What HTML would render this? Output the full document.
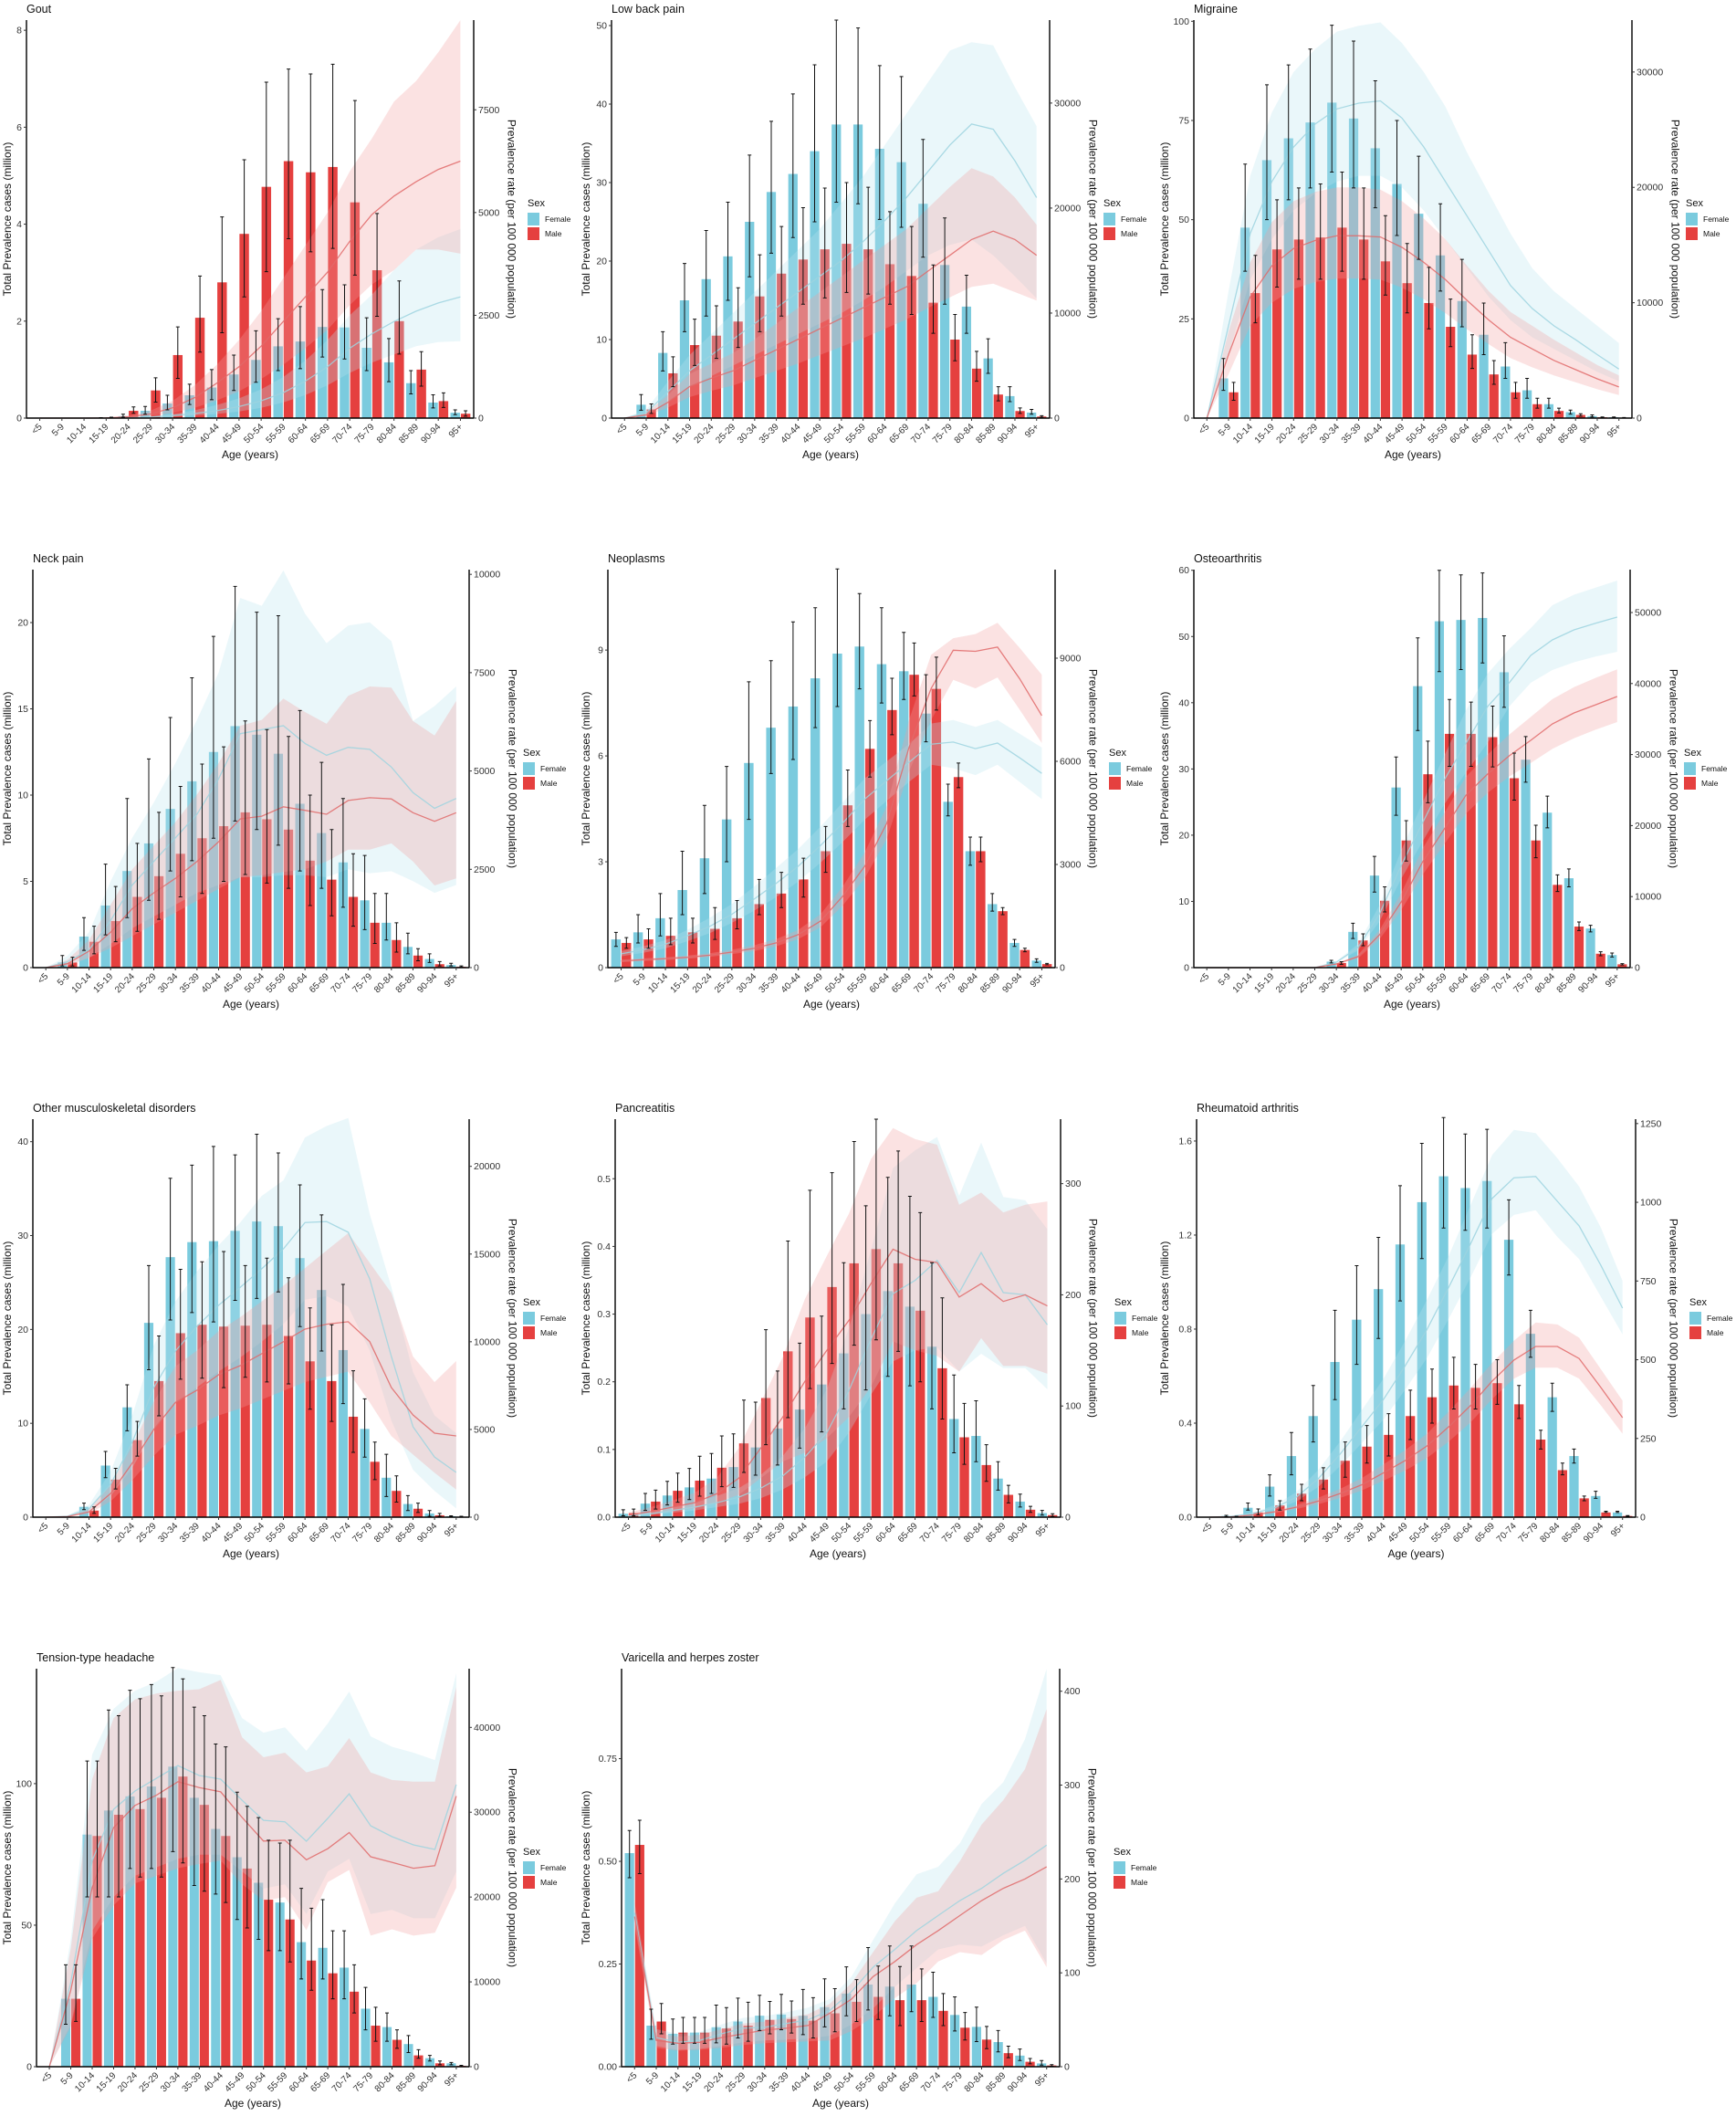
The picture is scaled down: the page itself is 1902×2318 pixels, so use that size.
<!DOCTYPE html>
<html><head><meta charset="utf-8"><title>Prevalence by age and sex</title>
<style>
html,body{margin:0;padding:0;background:#fff;}
svg text{font-family:"Liberation Sans",Arial,sans-serif;}
</style></head>
<body>
<svg id="chart" xmlns="http://www.w3.org/2000/svg" width="1902" height="2313" viewBox="0 0 1902 2313"></svg>
<script>
const ageGroups = ["<5","5-9","10-14","15-19","20-24","25-29","30-34","35-39","40-44","45-49","50-54","55-59","60-64","65-69","70-74","75-79","80-84","85-89","90-94","95+"];

// ---------- Gout ----------
const goutF = [0,0,0,0.01,0.04,0.15,0.3,0.47,0.63,0.9,1.2,1.48,1.58,1.88,1.87,1.45,1.15,0.72,0.32,0.11];
const goutFHi = [0,0,0,0.01,0.08,0.24,0.47,0.7,1.0,1.3,1.8,2.05,2.3,2.65,2.75,2.07,1.64,0.98,0.48,0.17];
const goutFLo = [0,0,0,0,0.02,0.08,0.17,0.28,0.38,0.57,0.74,0.98,1.02,1.26,1.22,0.98,0.75,0.5,0.21,0.07];
const goutM = [0,0,0,0.01,0.15,0.57,1.3,2.07,2.8,3.8,4.77,5.3,5.07,5.18,4.45,3.05,2.0,1.0,0.35,0.09];
const goutMHi = [0,0,0,0.02,0.23,0.83,1.88,2.93,4.15,5.33,6.93,7.2,7.1,7.3,6.55,4.22,2.83,1.37,0.52,0.15];
const goutMLo = [0,0,0,0,0.1,0.33,0.82,1.36,1.76,2.5,3.02,3.7,3.43,3.5,2.95,2.1,1.32,0.66,0.22,0.04];
const goutRateF = [0,0,0,2,8,25,60,110,180,280,420,620,900,1250,1700,2050,2350,2600,2800,2950];
const goutRateFHi = [0,0,0,4,15,45,100,190,320,480,700,1000,1400,1900,2500,3000,3600,4100,4400,4600];
const goutRateFLo = [0,0,0,1,4,12,30,60,100,160,250,380,560,800,1100,1350,1550,1750,1850,1870];
const goutRateM = [0,0,0,5,30,100,250,500,850,1250,1750,2350,2950,3550,4300,4950,5400,5750,6050,6250];
const goutRateMHi = [0,0,0,10,60,180,420,800,1300,1900,2600,3400,4200,5000,6000,6800,7700,8200,8900,9680];
const goutRateMLo = [0,0,0,2,15,50,120,250,430,650,950,1300,1700,2150,2750,3250,3600,4100,4100,4000];
const goutLeftTicks = [0,2,4,6,8];
const goutLeftLabels = ["0","2","4","6","8"];
const goutRightTicks = [0,2500,5000,7500];

// ---------- Low back pain ----------
const lbpF = [0,1.7,8.3,15,17.7,20.6,25,28.8,31.1,34,37.4,37.4,34.3,32.6,27.3,19.5,14.2,7.6,2.8,0.7];
const lbpFHi = [0,3,11,19.7,23.9,27.5,33.5,37.8,41.3,45,50.7,49.7,44.9,43.5,35.5,25.5,18.2,10.1,4,1.1];
const lbpFLo = [0,1,6,11,13,15,18,21,23,25,27.5,27.3,25.3,24.3,20.5,14.5,10.8,5.7,2.1,0.5];
const lbpM = [0,1.1,5.7,9.3,10.5,12.3,15.5,18.4,20.2,21.5,22.2,21.5,19.6,18.1,14.7,10,6.3,3,0.9,0.2];
const lbpMHi = [0,1.8,7.8,12.6,14.3,16.6,20.8,24.4,26.8,29.3,30,29.4,26.3,24.4,19.5,13.2,8.5,4,1.3,0.3];
const lbpMLo = [0,0.6,4,6.7,7.6,9,11,13,14.5,15.3,16,15.8,14.5,13.2,10.8,7.3,4.7,2.2,0.6,0.1];
const lbpRateF = [0,500,2500,4500,6000,7500,9000,10500,12000,13500,15000,16800,18800,21000,23500,26000,28000,27500,24500,21000];
const lbpRateFHi = [0,800,3500,6000,8000,10000,12000,14000,16000,18000,20500,23000,26000,29000,32000,35000,35800,35500,31500,27800];
const lbpRateFLo = [0,300,1500,3000,4000,5000,6000,7000,8000,9000,10000,11200,12500,14000,15500,16500,17000,15500,13500,11400];
const lbpRateM = [0,300,1500,3000,3800,4500,5500,6500,7500,8500,9500,10500,11500,12500,14000,15500,17000,17800,17000,15500];
const lbpRateMHi = [0,500,2200,4200,5200,6200,7500,9000,10500,12000,13500,15000,16500,18000,20000,22000,23800,23000,21000,18400];
const lbpRateMLo = [0,200,1000,2000,2600,3100,3800,4500,5200,6000,6800,7600,8500,9400,10500,11500,12500,12800,12000,11200];
const lbpLeftTicks = [0,10,20,30,40,50];
const lbpLeftLabels = ["0","10","20","30","40","50"];
const lbpRightTicks = [0,10000,20000,30000];

// ---------- Migraine ----------
const migF = [0,10,48,65,70.5,74.5,79.5,75.5,68,59,51.5,41,29.5,21,13,7,3.5,1.5,0.5,0.2];
const migFHi = [0,15,64,84,89,93,99,95,85,75,66,54,40,29,19,10,5,2,0.8,0.3];
const migFLo = [0,7,37,50,55,58,62,58,53,46,40,32,23,16,10,5,2.5,1,0.3,0.1];
const migM = [0,6.5,31.5,42.5,45,45.5,48,45,39.5,34,29,23,16,11,6.5,3.5,1.8,0.8,0.2,0.1];
const migMHi = [0,9,41,55,58,59,62,58,51,44,38,30,21,14.5,9,5,2.5,1.1,0.3,0.15];
const migMLo = [0,4.5,24,33,35,35,37,35,31,26.5,22.5,18,12.5,8.5,5,2.5,1.3,0.5,0.1,0.05];
const migRateF = [0,8000,16000,20500,23500,25500,26800,27300,27500,26000,23500,20500,17500,14500,11500,9500,8000,6800,5500,4250];
const migRateFHi = [0,11000,21000,26500,30000,32000,33500,34000,34300,32500,30000,27000,23000,19500,16000,13000,11000,9500,8000,6500];
const migRateFLo = [0,5500,12000,15500,18000,19500,20500,21000,21000,20000,18000,15500,13000,10500,8500,7000,6000,5000,4000,3200];
const migRateM = [0,5500,10500,13200,14700,15400,15800,15800,15700,14800,13500,12000,10200,8500,7000,6000,5000,4200,3400,2700];
const migRateMHi = [0,7500,13500,17000,18800,19600,20000,20000,19800,18800,17300,15500,13200,11000,9200,8000,6800,5700,4600,3700];
const migRateMLo = [0,3800,8000,10000,11200,11800,12100,12100,12000,11300,10300,9100,7700,6400,5200,4400,3700,3100,2500,2000];
const migLeftTicks = [0,25,50,75,100];
const migLeftLabels = ["0","25","50","75","100"];
const migRightTicks = [0,10000,20000,30000];

// ---------- Neck pain ----------
const neckF = [0,0.3,1.8,3.6,5.6,7.2,9.2,10.8,12.5,14,13.5,12.4,9.5,7.8,6.1,3.9,2.6,1.2,0.5,0.15];
const neckFHi = [0,0.7,2.9,6,9.8,12.1,14.5,16.8,19.2,22.1,20.6,20.4,14.9,11.9,9.8,6.5,4.3,2,0.8,0.25];
const neckFLo = [0,0.1,1,1.9,2.9,3.9,5.6,6.2,7.5,8.5,8,7.1,5.6,4.6,3.5,2.2,1.6,0.8,0.3,0.1];
const neckM = [0,0.3,1.5,2.7,4.1,5.3,6.6,7.5,8.2,9,8.6,8,6.2,5.1,4.1,2.6,1.6,0.7,0.2,0.05];
const neckMHi = [0,0.6,2.4,4.7,7.2,9,10.5,11.8,12.8,14.3,13.8,13.4,10,8,6.6,4.3,2.6,1.1,0.35,0.1];
const neckMLo = [0,0.1,0.8,1.5,2.1,2.8,4.1,4.3,5,5.4,4.9,4.6,3.6,3,2.4,1.4,0.9,0.4,0.1,0.03];
const neckRateF = [0,150,450,1200,2100,2700,3300,3900,4800,5950,6050,6150,5700,5400,5600,5550,5100,4450,4050,4300];
const neckRateFHi = [0,300,900,2200,3300,4200,5200,6300,7500,9400,9200,10100,9000,8250,8700,8780,8300,6270,6650,7150];
const neckRateFLo = [0,50,250,600,1000,1300,1600,1900,2100,2300,2300,2350,2350,2300,2500,2400,2450,2200,1900,2100];
const neckRateM = [0,100,420,900,1500,1900,2270,2700,3200,3780,3850,4090,4000,3900,4250,4320,4290,3940,3720,3940];
const neckRateMHi = [0,200,700,1600,2500,3100,3700,4400,5200,6150,6300,6840,6500,6200,6910,7150,7120,6270,5900,6780];
const neckRateMLo = [0,50,250,500,800,1100,1400,1700,2000,2300,2350,2430,2500,2700,3000,3000,3160,2700,2090,2270];
const neckLeftTicks = [0,5,10,15,20];
const neckLeftLabels = ["0","5","10","15","20"];
const neckRightTicks = [0,2500,5000,7500,10000];

// ---------- Neoplasms ----------
const neoF = [0.8,1,1.4,2.2,3.1,4.2,5.8,6.8,7.4,8.2,8.9,9.1,8.6,8.4,7.2,4.7,3.3,1.8,0.7,0.2];
const neoFHi = [1,1.5,2.1,3.3,4.6,5.7,8.1,8.7,9.8,10.2,11.3,10.6,10.2,9.5,8.3,5.2,3.7,2.1,0.8,0.25];
const neoFLo = [0.6,0.7,0.9,1.5,2.1,3,4.2,5.5,5.9,6.8,7.4,7.9,7.5,7.6,6.4,4.3,2.9,1.6,0.6,0.15];
const neoM = [0.7,0.8,0.9,1,1.1,1.4,1.8,2.1,2.5,3.3,4.6,6.2,7.3,8.3,7.9,5.4,3.3,1.6,0.5,0.1];
const neoMHi = [0.85,1.1,1.4,1.4,1.7,1.9,2.5,2.7,3.1,4,5.6,7,8.2,9.2,8.8,5.8,3.7,1.7,0.55,0.12];
const neoMLo = [0.55,0.55,0.65,0.7,0.8,1.1,1.5,1.7,2,2.7,4,5.4,6.6,7.7,7.3,5.1,3,1.5,0.45,0.08];
const neoRateF = [400,520,680,930,1200,1550,1990,2450,2950,3550,4200,4900,5440,5970,6500,6560,6370,6530,6100,5650];
const neoRateFHi = [480,620,800,1100,1450,1850,2350,2900,3450,4100,4800,5500,6000,6500,7100,7200,7000,7200,6800,6400];
const neoRateFLo = [330,430,560,770,1000,1300,1650,2050,2500,3050,3650,4300,4850,5400,5900,5800,5600,5900,5400,4900];
const neoRateM = [190,230,260,300,360,450,560,720,960,1350,2070,2950,4200,6400,8120,9230,9200,9320,8400,7330];
const neoRateMHi = [230,270,300,350,420,520,650,830,1100,1550,2350,3350,4700,7200,9100,9580,9700,10030,9300,8520];
const neoRateMLo = [160,190,220,260,310,390,480,620,830,1170,1800,2600,3750,5700,7200,8370,8120,8440,7500,6530];
const neoLeftTicks = [0,3,6,9];
const neoLeftLabels = ["0","3","6","9"];
const neoRightTicks = [0,3000,6000,9000];

// ---------- Osteoarthritis ----------
const oaF = [0,0,0,0,0,0,0.9,5.4,13.9,27.2,42.5,52.3,52.5,52.8,44.6,31.4,23.4,13.5,5.9,1.9];
const oaFHi = [0,0,0,0,0,0,1.1,6.7,16.8,31.8,49.8,60,59.3,59.6,50.1,34.9,25.9,14.9,6.4,2.2];
const oaFLo = [0,0,0,0,0,0,0.7,4.4,11.4,23,35.8,44.7,45,46,39.3,28,21.1,12.2,5.4,1.6];
const oaM = [0,0,0,0,0,0,0.7,4.1,10.1,19.2,29.2,35.3,35.3,34.8,28.6,19.2,12.5,6.2,2.1,0.5];
const oaMHi = [0,0,0,0,0,0,0.9,5.1,12.2,22.2,34.2,40.5,40.1,39.5,32.4,21.5,14,6.9,2.4,0.6];
const oaMLo = [0,0,0,0,0,0,0.5,3.3,8.4,16.1,24.9,30.4,30.4,30.3,25.3,16.6,11.5,5.6,1.8,0.4];
const oaRateF = [0,0,0,0,0,0,770,2830,7580,14400,20440,26480,31620,36760,40100,43960,46140,47560,48500,49360];
const oaRateFHi = [0,0,0,0,0,0,900,3300,8800,16500,23300,29900,36250,41390,44860,47800,51030,52500,53500,54500];
const oaRateFLo = [0,0,0,0,0,0,650,2400,6500,12500,17800,23000,27500,31620,36760,40100,41900,43000,43800,44470];
const oaRateM = [0,0,0,0,0,0,510,1540,4630,9250,14910,19540,24290,27250,29820,32000,34320,35860,37000,38170];
const oaRateMHi = [0,0,0,0,0,0,600,1800,5300,10500,16800,21800,26900,30000,32800,35300,37800,39500,40800,42000];
const oaRateMLo = [0,0,0,0,0,0,430,1300,4000,8100,13100,17400,21700,24600,26900,28800,30800,32300,33500,34580];
const oaLeftTicks = [0,10,20,30,40,50,60];
const oaLeftLabels = ["0","10","20","30","40","50","60"];
const oaRightTicks = [0,10000,20000,30000,40000,50000];

// ---------- Other musculoskeletal disorders ----------
const omsF = [0,0,1.1,5.5,11.7,20.7,27.7,29.3,29.4,30.5,31.5,31,27.6,24.2,17.8,9.4,4.2,1.4,0.4,0.1];
const omsFHi = [0,0,1.5,7,14.1,26.8,36.1,37.5,39.5,38.6,40.8,38.8,35.4,32.2,24.8,12.6,6.7,2.3,0.7,0.15];
const omsFLo = [0,0,0.8,4.2,9.2,15.7,21,21.8,20.8,23.1,23.3,24,20.3,17.7,12.1,6.4,2.2,0.7,0.1,0.05];
const omsM = [0,0,0.7,4,8.2,14.5,19.6,20.5,20.3,20.4,20.5,19.3,16.6,14.5,10.7,5.9,2.8,0.9,0.2,0.05];
const omsMHi = [0,0,1.1,5.2,10.2,19.3,26.4,27.2,28.3,26.8,27.6,25.5,22.3,20.5,15.6,8,4.4,1.5,0.4,0.1];
const omsMLo = [0,0,0.4,3,6.5,10.8,14.7,14.8,13.8,14.9,14.4,14.2,11.5,10.2,6.9,4,1.6,0.5,0.1,0.02];
const omsRateF = [0,50,480,1870,4270,7390,9470,10880,12080,13100,14160,15300,16800,16850,16240,13580,9160,5150,3430,2550];
const omsRateFHi = [0,100,700,2600,5800,9800,12300,14000,15500,16800,18320,19200,21650,22300,22750,17280,13120,8270,5800,4790];
const omsRateFLo = [0,20,300,1200,2800,5000,6500,7400,8300,9100,10000,11000,12400,12600,12000,9500,5500,2700,1500,500];
const omsRateM = [0,30,300,1350,3080,5000,6540,7240,8120,8640,9320,10000,10720,11000,11140,10000,7390,5830,4790,4630];
const omsRateMHi = [0,60,450,1800,4100,6600,8600,9500,10600,11400,12300,13200,14200,15200,16190,14500,12780,9160,7700,8900];
const omsRateMLo = [0,10,200,900,2100,3500,4700,5200,5800,6200,6700,7200,7700,8000,8300,6540,4620,3570,2530,1570];
const omsLeftTicks = [0,10,20,30,40];
const omsLeftLabels = ["0","10","20","30","40"];
const omsRightTicks = [0,5000,10000,15000,20000];

// ---------- Pancreatitis ----------
const panF = [0.005,0.02,0.032,0.044,0.057,0.074,0.103,0.131,0.159,0.196,0.242,0.3,0.334,0.311,0.252,0.145,0.12,0.057,0.023,0.006];
const panFHi = [0.011,0.035,0.053,0.072,0.094,0.123,0.17,0.216,0.257,0.297,0.376,0.46,0.502,0.474,0.376,0.21,0.172,0.082,0.034,0.01];
const panFLo = [0.002,0.01,0.018,0.026,0.035,0.044,0.062,0.077,0.102,0.126,0.16,0.188,0.208,0.194,0.16,0.095,0.082,0.04,0.015,0.003];
const panM = [0.006,0.023,0.039,0.054,0.073,0.109,0.176,0.245,0.295,0.34,0.375,0.396,0.375,0.305,0.22,0.118,0.077,0.033,0.011,0.003];
const panMHi = [0.012,0.04,0.065,0.09,0.12,0.173,0.277,0.408,0.483,0.509,0.555,0.588,0.541,0.45,0.324,0.168,0.107,0.047,0.016,0.005];
const panMLo = [0.002,0.012,0.022,0.031,0.045,0.066,0.107,0.147,0.19,0.227,0.254,0.262,0.245,0.2,0.145,0.078,0.053,0.021,0.007,0.001];
const panRateF = [1,3,6,9,13,18,26,37,54,76,114,160,201,213,231,202,238,202,200,173];
const panRateFHi = [2,5,9,13,19,26,38,55,80,115,170,240,314,330,342,289,337,288,285,259];
const panRateFLo = [0.5,2,4,6,9,12,17,25,36,50,76,110,140,150,153,131,147,134,134,115];
const panRateM = [2,5,9,13,21,35,62,90,122,150,177,210,241,232,229,198,210,194,200,190];
const panRateMHi = [4,9,15,22,35,62,103,144,196,235,273,322,350,340,335,281,292,274,281,284];
const panRateMLo = [1,3,5,8,13,20,35,50,58,71,90,117,158,150,145,131,161,136,136,129];
const panLeftTicks = [0,0.1,0.2,0.3,0.4,0.5];
const panLeftLabels = ["0.0","0.1","0.2","0.3","0.4","0.5"];
const panRightTicks = [0,100,200,300];

// ---------- Rheumatoid arthritis ----------
const raF = [0,0.005,0.04,0.13,0.26,0.43,0.66,0.84,0.97,1.16,1.34,1.45,1.4,1.43,1.18,0.78,0.51,0.26,0.09,0.02];
const raFHi = [0,0.008,0.06,0.18,0.36,0.56,0.88,1.07,1.19,1.41,1.59,1.7,1.63,1.65,1.35,0.88,0.57,0.29,0.11,0.025];
const raFLo = [0,0.002,0.03,0.09,0.18,0.32,0.5,0.65,0.76,0.92,1.1,1.23,1.22,1.23,1.03,0.68,0.45,0.23,0.08,0.02];
const raM = [0,0.002,0.02,0.05,0.1,0.16,0.24,0.3,0.35,0.43,0.51,0.56,0.55,0.57,0.48,0.33,0.2,0.08,0.02,0.005];
const raMHi = [0,0.004,0.035,0.07,0.14,0.21,0.32,0.39,0.44,0.54,0.63,0.68,0.65,0.67,0.56,0.37,0.23,0.09,0.025,0.007];
const raMLo = [0,0.001,0.01,0.03,0.07,0.12,0.17,0.23,0.26,0.33,0.4,0.46,0.46,0.48,0.42,0.29,0.18,0.07,0.02,0.003];
const raRateF = [0,3,12,30,64,122,200,287,374,481,596,730,867,1012,1078,1082,1003,925,800,664];
const raRateFHi = [0,4,15,38,80,150,240,340,440,560,690,830,990,1150,1230,1220,1140,1050,920,750];
const raRateFLo = [0,2,9,23,50,96,162,235,310,405,505,630,760,900,960,975,890,820,700,580];
const raRateM = [0,1,7,17,32,51,75,103,141,180,226,287,354,432,499,542,542,504,412,316];
const raRateMHi = [0,2,9,21,39,62,90,124,168,213,265,335,410,490,560,618,612,570,470,370];
const raRateMLo = [0,1,5,13,26,41,61,85,116,148,188,240,300,375,440,475,475,440,355,265];
const raLeftTicks = [0,0.4,0.8,1.2,1.6];
const raLeftLabels = ["0.0","0.4","0.8","1.2","1.6"];
const raRightTicks = [0,250,500,750,1000,1250];

// ---------- Tension-type headache ----------
const tthF = [0,24,82,90.5,95.5,99,106,95,84,74,65,58,44,42,35,20.5,14,8,3,1.2];
const tthFHi = [0,36,108,126,133,135,141,127,114,97,88,79,63,59,48,28,19,11,4,1.5];
const tthFLo = [0,15,60,60,70,70,76,64,61,52,45,41,31,31,24,13,9,5,2,0.7];
const tthM = [0,24,81.5,89,91,95,102.5,92.5,81.5,70,59,52,37.5,33,26.5,14.5,9.5,4,1.2,0.3];
const tthMHi = [0,36,108,124,130,131,137,124,113,92,80,80,56,48,36,21,13,6,2,0.5];
const tthMLo = [0,16,60,60,67,67,72,62,58,49,41,37,27,24,19,9,6.5,3,0.7,0.1];
const tthRateF = [0,9900,24300,30350,32500,34000,35500,34330,33900,31400,29050,28870,26580,29270,32170,28400,27120,26150,25610,33250];
const tthRateFHi = [0,15000,36800,42200,44330,45380,47000,46500,46160,41100,39380,40000,37230,40460,44230,38950,37720,37020,36150,46380];
const tthRateFLo = [0,5000,16000,20000,22500,23500,24500,25000,25000,23000,21000,21500,18000,23000,24500,18000,18500,17500,17500,23000];
const tthRateM = [0,9000,21100,28200,30800,32000,33600,32900,32400,29380,26600,26700,24400,25700,27600,24750,24100,23400,23700,31900];
const tthRateMHi = [0,13900,33900,41100,43300,44000,44330,44500,45600,38830,36480,37020,34700,35400,38740,34700,33800,33600,33600,44760];
const tthRateMLo = [0,4700,15100,19000,21600,22500,23400,23900,24300,21500,19600,20000,16100,21750,23200,15450,16200,15450,15800,21100];
const tthLeftTicks = [0,50,100];
const tthLeftLabels = ["0","50","100"];
const tthRightTicks = [0,10000,20000,30000,40000];

// ---------- Varicella and herpes zoster ----------
const varF = [0.52,0.1,0.08,0.083,0.096,0.11,0.124,0.127,0.124,0.145,0.178,0.2,0.195,0.2,0.17,0.126,0.097,0.06,0.027,0.008];
const varFHi = [0.575,0.14,0.116,0.12,0.15,0.167,0.174,0.176,0.188,0.214,0.243,0.29,0.294,0.294,0.23,0.17,0.145,0.088,0.043,0.015];
const varFLo = [0.46,0.067,0.055,0.057,0.058,0.07,0.088,0.09,0.078,0.097,0.124,0.138,0.124,0.134,0.12,0.087,0.061,0.036,0.015,0.004];
const varM = [0.54,0.11,0.083,0.083,0.093,0.1,0.114,0.116,0.112,0.13,0.158,0.17,0.162,0.162,0.136,0.095,0.066,0.033,0.012,0.003];
const varMHi = [0.6,0.154,0.12,0.12,0.144,0.157,0.159,0.16,0.168,0.19,0.212,0.245,0.244,0.238,0.178,0.132,0.098,0.05,0.02,0.005];
const varMLo = [0.47,0.08,0.057,0.057,0.055,0.062,0.08,0.082,0.07,0.085,0.11,0.115,0.1,0.11,0.1,0.065,0.044,0.022,0.007,0.001];
const varRateF = [164,31,26,28,35,41,42,46,50,60,80,106,125,145,161,177,190,206,220,236];
const varRateFHi = [175,40,35,37,45,52,54,58,63,72,96,135,174,205,213,238,280,303,349,424];
const varRateFLo = [155,22,18,19,22,26,28,29,30,33,45,62,85,105,125,130,128,140,150,110];
const varRateM = [160,28,25,26,31,35,39,41,44,57,72,96,112,130,145,161,177,190,200,213];
const varRateMHi = [170,36,32,34,40,46,48,52,56,67,89,122,155,180,187,219,258,284,317,381];
const varRateMLo = [150,20,17,18,20,23,25,26,27,28,38,53,73,89,112,122,119,135,145,106];
const varLeftTicks = [0,0.25,0.5,0.75];
const varLeftLabels = ["0.00","0.25","0.50","0.75"];
const varRightTicks = [0,100,200,300,400];

const panels = [
 {key:"gout",title:"Gout",ox:0,oy:0,L:29,R:519,yMax:8.21,rMax:9682,f:goutF,fHi:goutFHi,fLo:goutFLo,m:goutM,mHi:goutMHi,mLo:goutMLo,rf:goutRateF,rfHi:goutRateFHi,rfLo:goutRateFLo,rm:goutRateM,rmHi:goutRateMHi,rmLo:goutRateMLo,lt:goutLeftTicks,ll:goutLeftLabels,rt:goutRightTicks},
 {key:"low-back-pain",title:"Low back pain",ox:634,oy:0,L:36,R:516,yMax:50.7,rMax:37900,f:lbpF,fHi:lbpFHi,fLo:lbpFLo,m:lbpM,mHi:lbpMHi,mLo:lbpMLo,rf:lbpRateF,rfHi:lbpRateFHi,rfLo:lbpRateFLo,rm:lbpRateM,rmHi:lbpRateMHi,rmLo:lbpRateMLo,lt:lbpLeftTicks,ll:lbpLeftLabels,rt:lbpRightTicks},
 {key:"migraine",title:"Migraine",ox:1268,oy:0,L:40,R:520,yMax:100.3,rMax:34500,f:migF,fHi:migFHi,fLo:migFLo,m:migM,mHi:migMHi,mLo:migMLo,rf:migRateF,rfHi:migRateFHi,rfLo:migRateFLo,rm:migRateM,rmHi:migRateMHi,rmLo:migRateMLo,lt:migLeftTicks,ll:migLeftLabels,rt:migRightTicks},
 {key:"neck-pain",title:"Neck pain",ox:0,oy:602,L:36,R:514,yMax:23.07,rMax:10120,f:neckF,fHi:neckFHi,fLo:neckFLo,m:neckM,mHi:neckMHi,mLo:neckMLo,rf:neckRateF,rfHi:neckRateFHi,rfLo:neckRateFLo,rm:neckRateM,rmHi:neckRateMHi,rmLo:neckRateMLo,lt:neckLeftTicks,ll:neckLeftLabels,rt:neckRightTicks},
 {key:"neoplasms",title:"Neoplasms",ox:634,oy:602,L:32,R:522,yMax:11.28,rMax:11575,f:neoF,fHi:neoFHi,fLo:neoFLo,m:neoM,mHi:neoMHi,mLo:neoMLo,rf:neoRateF,rfHi:neoRateFHi,rfLo:neoRateFLo,rm:neoRateM,rmHi:neoRateMHi,rmLo:neoRateMLo,lt:neoLeftTicks,ll:neoLeftLabels,rt:neoRightTicks},
 {key:"osteoarthritis",title:"Osteoarthritis",ox:1268,oy:602,L:40,R:518,yMax:60.1,rMax:56040,f:oaF,fHi:oaFHi,fLo:oaFLo,m:oaM,mHi:oaMHi,mLo:oaMLo,rf:oaRateF,rfHi:oaRateFHi,rfLo:oaRateFLo,rm:oaRateM,rmHi:oaRateMHi,rmLo:oaRateMLo,lt:oaLeftTicks,ll:oaLeftLabels,rt:oaRightTicks},
 {key:"other-msk",title:"Other musculoskeletal disorders",ox:0,oy:1204,L:36,R:514,yMax:42.4,rMax:22690,f:omsF,fHi:omsFHi,fLo:omsFLo,m:omsM,mHi:omsMHi,mLo:omsMLo,rf:omsRateF,rfHi:omsRateFHi,rfLo:omsRateFLo,rm:omsRateM,rmHi:omsRateMHi,rmLo:omsRateMLo,lt:omsLeftTicks,ll:omsLeftLabels,rt:omsRightTicks},
 {key:"pancreatitis",title:"Pancreatitis",ox:634,oy:1204,L:40,R:528,yMax:0.588,rMax:358,f:panF,fHi:panFHi,fLo:panFLo,m:panM,mHi:panMHi,mLo:panMLo,rf:panRateF,rfHi:panRateFHi,rfLo:panRateFLo,rm:panRateM,rmHi:panRateMHi,rmLo:panRateMLo,lt:panLeftTicks,ll:panLeftLabels,rt:panRightTicks},
 {key:"rheumatoid-arthritis",title:"Rheumatoid arthritis",ox:1268,oy:1204,L:43,R:524,yMax:1.693,rMax:1264,f:raF,fHi:raFHi,fLo:raFLo,m:raM,mHi:raMHi,mLo:raMLo,rf:raRateF,rfHi:raRateFHi,rfLo:raRateFLo,rm:raRateM,rmHi:raRateMHi,rmLo:raRateMLo,lt:raLeftTicks,ll:raLeftLabels,rt:raRightTicks},
 {key:"tension-headache",title:"Tension-type headache",ox:0,oy:1806,L:40,R:514,yMax:140.6,rMax:46920,f:tthF,fHi:tthFHi,fLo:tthFLo,m:tthM,mHi:tthMHi,mLo:tthMLo,rf:tthRateF,rfHi:tthRateFHi,rfLo:tthRateFLo,rm:tthRateM,rmHi:tthRateMHi,rmLo:tthRateMLo,lt:tthLeftTicks,ll:tthLeftLabels,rt:tthRightTicks},
 {key:"varicella",title:"Varicella and herpes zoster",ox:634,oy:1806,L:47,R:527,yMax:0.969,rMax:424,f:varF,fHi:varFHi,fLo:varFLo,m:varM,mHi:varMHi,mLo:varMLo,rf:varRateF,rfHi:varRateFHi,rfLo:varRateFLo,rm:varRateM,rmHi:varRateMHi,rmLo:varRateMLo,lt:varLeftTicks,ll:varLeftLabels,rt:varRightTicks}
];

const NS = "http://www.w3.org/2000/svg";
const svg = document.getElementById("chart");
const FEM = "#7BCBDE", MAL = "#E5403F";

function mk(tag, attrs, parent){
  const e = document.createElementNS(NS, tag);
  for (const k in attrs) e.setAttribute(k, attrs[k]);
  parent.appendChild(e);
  return e;
}

function drawPanel(p){
  const g = mk("g", {}, svg);
  
  
  const L = p.ox + p.L, R = p.ox + p.R, T = p.oy + 22, B = p.oy + 458;
  const n = ageGroups.length;
  const step = (R - L) / (n - 1 + 1.2);
  const xc = i => L + step * (0.6 + i);
  const yL = v => B - (v / p.yMax) * (B - T);
  const yR = v => B - (v / p.rMax) * (B - T);
  const bw = step * 0.43;

  // title
  const t = mk("text", {x: L, y: p.oy + 14, "font-size": 12.5, fill: "#111"}, g);
  t.textContent = p.title;
  
  

  // bars
  for (let i = 0; i < n; i++){
    const c = xc(i);
    const bf = mk("rect", {x: c - step*0.45, y: yL(p.f[i]), width: bw, height: B - yL(p.f[i]), fill: FEM}, g);
    
    
    const bm = mk("rect", {x: c + step*0.02, y: yL(p.m[i]), width: bw, height: B - yL(p.m[i]), fill: MAL}, g);
    
    
  }

  // ribbons
  function ribbon(hi, lo, color, op, name){
    let d = "";
    for (let i = 0; i < n; i++) d += (i ? "L" : "M") + xc(i).toFixed(1) + "," + yR(hi[i]).toFixed(1);
    for (let i = n - 1; i >= 0; i--) d += "L" + xc(i).toFixed(1) + "," + yR(lo[i]).toFixed(1);
    const r = mk("path", {d: d + "Z", fill: color, "fill-opacity": op, stroke: "none"}, g);
    
    
  }
  ribbon(p.rfHi, p.rfLo, "#B9E4EE", 0.3, 'female-rate-ribbon');
  ribbon(p.rmHi, p.rmLo, "#F3A0A0", 0.3, 'male-rate-ribbon');

  function line(vals, color, name){
    let d = "";
    for (let i = 0; i < n; i++) d += (i ? "L" : "M") + xc(i).toFixed(1) + "," + yR(vals[i]).toFixed(1);
    const l = mk("path", {d: d, fill: "none", stroke: color, "stroke-width": 1.3, "stroke-opacity": 0.85}, g);
    
    
  }
  line(p.rf, "#9ED3DF", 'female-rate-line');
  line(p.rm, "#E06A6A", 'male-rate-line');

  // error bars
  function err(cx, hi, lo, name){
    if (hi - lo <= 0 && hi === 0) return;
    const y1 = yL(hi), y2 = yL(lo);
    const e = mk("path", {d: `M${cx},${y1}L${cx},${y2}M${cx-2},${y1}L${cx+2},${y1}M${cx-2},${y2}L${cx+2},${y2}`, stroke: "#111", "stroke-width": 1, fill: "none"}, g);
    
    
  }
  for (let i = 0; i < n; i++){
    const c = xc(i);
    err((c - step*0.45 + bw/2).toFixed(1)*1, p.fHi[i], p.fLo[i], 'female-error-bar');
    err((c + step*0.02 + bw/2).toFixed(1)*1, p.mHi[i], p.mLo[i], 'male-error-bar');
  }

  // axes
  const ax = mk("path", {d: `M${L},${T}L${L},${B}L${R},${B}M${R},${T}L${R},${B}`, stroke: "#000", "stroke-width": 1.4, fill: "none"}, g);
  
  

  // left ticks
  p.lt.forEach((v, k) => {
    const y = yL(v);
    mk("line", {x1: L - 3, x2: L, y1: y, y2: y, stroke: "#333", "stroke-width": 1}, g);
    const tl = mk("text", {x: L - 5, y: y + 3.5, "font-size": 10.5, fill: "#333", "text-anchor": "end"}, g);
    tl.textContent = p.ll[k];
    
    
  });
  // right ticks
  let maxLen = 0;
  p.rt.forEach(v => {
    const y = yR(v);
    mk("line", {x1: R, x2: R + 3, y1: y, y2: y, stroke: "#333", "stroke-width": 1}, g);
    const tr = mk("text", {x: R + 5, y: y + 3.5, "font-size": 10.5, fill: "#333"}, g);
    tr.textContent = String(v);
    
    
    maxLen = Math.max(maxLen, String(v).length);
  });
  // x ticks
  for (let i = 0; i < n; i++){
    const c = xc(i);
    mk("line", {x1: c, x2: c, y1: B, y2: B + 3, stroke: "#333", "stroke-width": 1}, g);
    const xl = mk("text", {x: c + 3, y: B + 10, "font-size": 10, fill: "#333", "text-anchor": "end", transform: `rotate(-45 ${c + 3} ${B + 10})`}, g);
    xl.textContent = ageGroups[i];
    
    
  }
  // axis titles
  const xt = mk("text", {x: (L + R) / 2, y: p.oy + 502, "font-size": 12, fill: "#111", "text-anchor": "middle"}, g);
  xt.textContent = "Age (years)";
  
  
  const cy = (T + B) / 2;
  const ylx = p.ox + 12;
  const yt = mk("text", {x: ylx, y: cy, "font-size": 12, fill: "#111", "text-anchor": "middle", transform: `rotate(-90 ${ylx} ${cy})`}, g);
  yt.textContent = "Total Prevalence cases (million)";
  
  
  const rx = R + 10 + maxLen * 5.9 + 4;
  const rtt = mk("text", {x: rx, y: cy, "font-size": 12, fill: "#111", "text-anchor": "middle", transform: `rotate(90 ${rx} ${cy})`}, g);
  rtt.textContent = "Prevalence rate (per 100 000 population)";
  
  

  // legend
  const lg = mk("g", {}, g);
  
  
  const lx = R + 59, ly = p.oy + 222;
  const st = mk("text", {x: lx, y: ly + 4, "font-size": 11, fill: "#111"}, lg);
  st.textContent = "Sex";
  mk("rect", {x: lx, y: ly + 11, width: 13, height: 14, fill: FEM}, lg);
  mk("rect", {x: lx, y: ly + 27, width: 13, height: 14, fill: MAL}, lg);
  const lf = mk("text", {x: lx + 19, y: ly + 21, "font-size": 8.5, fill: "#111"}, lg);
  lf.textContent = "Female";
  
  
  const lm = mk("text", {x: lx + 19, y: ly + 37, "font-size": 8.5, fill: "#111"}, lg);
  lm.textContent = "Male";
  
  
}

panels.forEach(drawPanel);
</script>
</body></html>
